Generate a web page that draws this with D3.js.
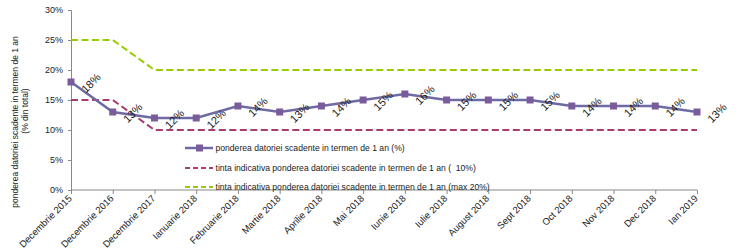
<!DOCTYPE html>
<html><head><meta charset="utf-8">
<script src="https://cdn.jsdelivr.net/npm/d3@7"></script>
<style>
html,body{margin:0;padding:0;background:#fff;}
svg{display:block;font-family:"Liberation Sans",Arial,sans-serif;}
</style></head>
<body><svg id="c" width="739" height="252"></svg>
<script>
const categories = ["Decembrie 2015","Decembrie 2016","Decembrie 2017","Ianuarie 2018","Februarie 2018","Martie 2018","Aprilie 2018","Mai 2018","Iunie 2018","Iulie 2018","August 2018","Sept 2018","Oct 2018","Nov 2018","Dec 2018","Ian 2019"];
const ponderea = [18,13,12,12,14,13,14,15,16,15,15,15,14,14,14,13];
const tintaMin = [15,15,10,10,10,10,10,10,10,10,10,10,10,10,10,10];
const tintaMax = [25,25,20,20,20,20,20,20,20,20,20,20,20,20,20,20];
const yTicks = [0,5,10,15,20,25,30];
const legendLabels = ["ponderea datoriei scadente in termen de 1 an (%)","tinta indicativa ponderea datoriei scadente in termen de 1 an (  10%)","tinta indicativa ponderea datoriei scadente in termen de 1 an (max 20%)"];
const yTitle = ["ponderea datoriei scadente in termen de 1 an","(% din total)"];

const svg = d3.select("#c");
const x = d3.scalePoint().domain(categories).range([71, 697]);
const y = d3.scaleLinear().domain([0,30]).range([190, 10]);
const axisCol = "#888";

// y axis
const ya = svg.append("g").attr("transform","translate(71,0)")
  .call(d3.axisLeft(y).tickValues(yTicks).tickFormat(d=>d+"%").tickSize(3).tickPadding(5));
ya.select(".domain").attr("stroke",axisCol);
ya.selectAll(".tick line").attr("stroke",axisCol);
ya.selectAll("text").attr("font-size",9).attr("fill","#222").attr("font-family","Liberation Sans, Arial");

// x axis
const xa = svg.append("g").attr("transform","translate(0,190)")
  .call(d3.axisBottom(x).tickSize(4).tickSizeOuter(0));
xa.select(".domain").attr("stroke",axisCol).attr("d","M71,0H697");
xa.selectAll(".tick line").attr("stroke",axisCol);
xa.selectAll("text").attr("font-size",9.5).attr("fill","#222").attr("font-family","Liberation Sans, Arial")
  .attr("text-anchor","end").attr("dy",0).attr("y",0)
  .attr("transform","translate(1,9) rotate(-45)");

// y title
const yt = svg.append("g");
yt.append("text").attr("transform","translate(18,122) rotate(-90)").attr("text-anchor","middle")
  .attr("font-size",8.5).attr("fill","#222").text(yTitle[0]);
yt.append("text").attr("transform","translate(28,111) rotate(-90)").attr("text-anchor","middle")
  .attr("font-size",8.5).attr("fill","#222").text(yTitle[1]);

const line = d3.line().x((d,i)=>x(categories[i])).y(d=>y(d));
svg.append("path").datum(tintaMax).attr("d",line).attr("fill","none")
  .attr("stroke","#99cc00").attr("stroke-width",2).attr("stroke-dasharray","7,3.5");
svg.append("path").datum(tintaMin).attr("d",line).attr("fill","none")
  .attr("stroke","#a93b6f").attr("stroke-width",2).attr("stroke-dasharray","7,3.5");
svg.append("path").datum(ponderea).attr("d",line).attr("fill","none")
  .attr("stroke","#6e6aa3").attr("stroke-width",2.5);
svg.selectAll("rect.m").data(ponderea).join("rect").attr("class","m")
  .attr("x",(d,i)=>x(categories[i])-3.5).attr("y",d=>y(d)-3.5).attr("width",7).attr("height",7)
  .attr("fill","#7a5c9b");

// data labels
svg.selectAll("text.lbl").data(ponderea).join("text").attr("class","lbl")
  .attr("transform",(d,i)=>`translate(${x(categories[i])+20},${y(d)+1}) rotate(-45)`)
  .attr("text-anchor","middle").attr("dy","0.35em").attr("font-size",11).attr("fill","#222")
  .text(d=>d+"%");

// legend
const lg = svg.append("g");
const ly = [148,168,187];
const styles = [{c:"#6e6aa3",dash:null,w:2.5},{c:"#a93b6f",dash:"5,3",w:2},{c:"#99cc00",dash:"5,3",w:2}];
legendLabels.forEach((t,i)=>{
  const g = lg.append("g");
  g.append("line").attr("x1",185).attr("x2",213).attr("y1",ly[i]).attr("y2",ly[i])
    .attr("stroke",styles[i].c).attr("stroke-width",styles[i].w).attr("stroke-dasharray",styles[i].dash);
  if(i===0) g.append("rect").attr("x",196).attr("y",ly[i]-3.5).attr("width",7).attr("height",7).attr("fill","#7a5c9b");
  g.append("text").attr("x",215.5).attr("y",ly[i]).attr("dy","0.35em").attr("font-size",8.6).attr("fill","#222")
    .style("white-space","pre").text(t);
});
</script></body></html>
